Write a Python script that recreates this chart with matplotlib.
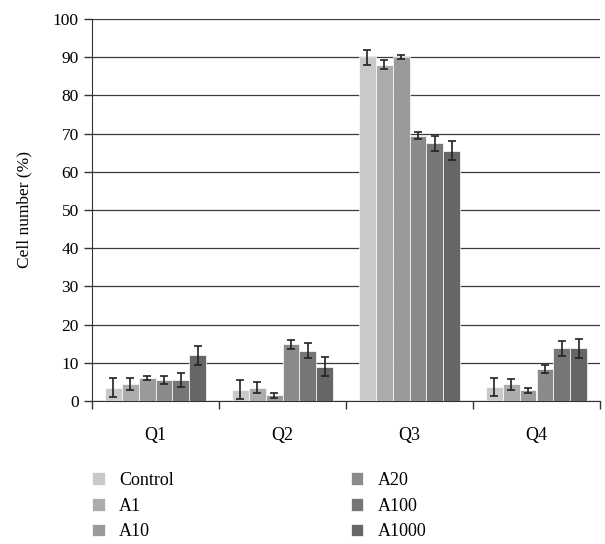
import numpy as np
import matplotlib
matplotlib.use("Agg")
import matplotlib.pyplot as plt

plt.rcParams['font.family'] = ['Liberation Serif', 'DejaVu Serif']

# Data
quadrants = ["Q1", "Q2", "Q3", "Q4"]
groups = ["Control", "A1", "A10", "A20", "A100", "A1000"]
control = [3.5, 3.0, 90.0, 3.7]
a1 = [4.5, 3.5, 88.0, 4.4]
a10 = [6.0, 1.5, 90.0, 2.8]
a20 = [5.5, 14.8, 69.5, 8.4]
a100 = [5.5, 13.2, 67.5, 13.8]
a1000 = [12.0, 9.0, 65.5, 13.8]
control_err = [2.4, 2.4, 2.0, 2.3]
a1_err = [1.5, 1.5, 1.2, 1.4]
a10_err = [0.6, 0.6, 0.6, 0.6]
a20_err = [1.1, 1.1, 1.0, 1.1]
a100_err = [1.8, 2.0, 2.0, 2.0]
a1000_err = [2.5, 2.5, 2.5, 2.5]

series = [control, a1, a10, a20, a100, a1000]
errors = [control_err, a1_err, a10_err, a20_err, a100_err, a1000_err]
colors = ["#c9c9c9", "#acacac", "#9a9a9a", "#8a8a8a", "#767676", "#666666"]

fig = plt.figure(figsize=(6.05, 5.44), dpi=100)
ax = fig.add_axes([92 / 605, 1 - 401 / 544, (600 - 92) / 605, (401 - 19) / 544])

x = np.arange(len(quadrants))
bar_w = 0.8 / len(groups)
handles = []
for i, (vals, errs, col) in enumerate(zip(series, errors, colors)):
    pos = x + (i - (len(groups) - 1) / 2) * bar_w
    h = ax.bar(pos, vals, width=bar_w, color=col, edgecolor="white",
               linewidth=0.5, zorder=3, label=groups[i])
    ax.errorbar(pos, vals, yerr=errs, fmt="none", ecolor="#222222",
                elinewidth=1.2, capsize=3, capthick=1.2, zorder=4)
    handles.append(h)

ax.set_ylim(0, 100)
ax.set_xlim(-0.5, 3.5)
ax.set_yticks(np.arange(0, 101, 10))
ax.yaxis.grid(True, color="#3a3a3a", linewidth=0.9, zorder=0)
ax.set_axisbelow(True)

# category boundary ticks on x axis
ax.set_xticks(np.arange(-0.5, 4.0, 1.0))
ax.set_xticklabels([])
ax.set_xticks(x, minor=True)
ax.set_xticklabels(quadrants, minor=True, fontsize=13)
ax.tick_params(axis="x", which="minor", length=0, pad=19)
ax.tick_params(axis="x", which="major", length=6, width=1, color="#333333")
ax.tick_params(axis="y", length=6, width=1, color="#333333", labelsize=12.5)

for side in ["top", "right"]:
    ax.spines[side].set_visible(False)
ax.spines["left"].set_color("#333333")
ax.spines["bottom"].set_color("#333333")

ax.set_ylabel("Cell number (%)", fontsize=12.5, labelpad=15)

leg = fig.legend(handles, groups, loc="upper left", ncol=2,
                 bbox_to_anchor=(0.125, 0.162), frameon=False,
                 fontsize=13, handlelength=0.7, handleheight=0.7,
                 handletextpad=0.8, columnspacing=9.8, labelspacing=0.48)

fig.savefig("out.png", dpi=100)
